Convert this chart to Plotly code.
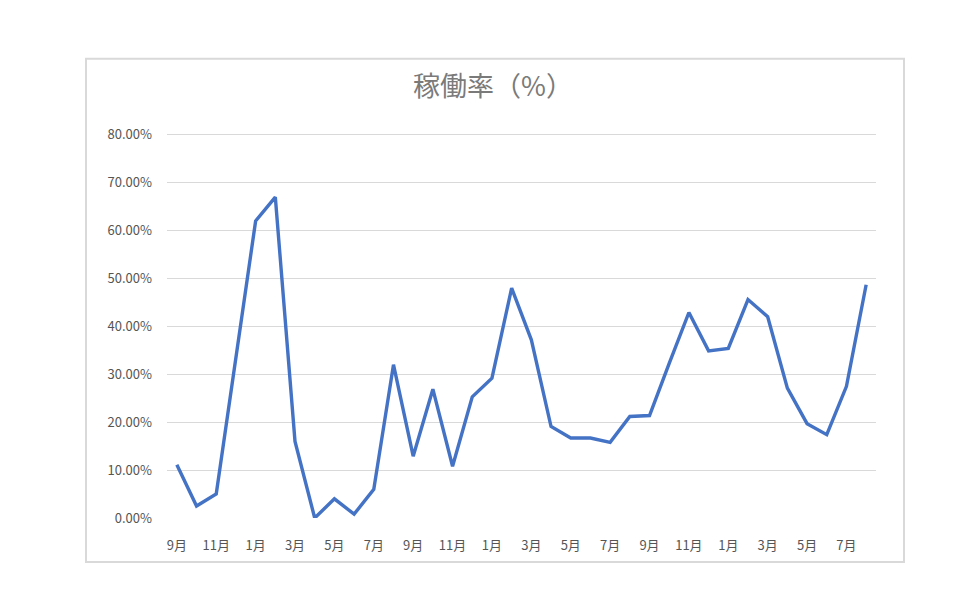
import plotly.graph_objects as go

# 稼働率 (%) — monthly, Sep of year 1 through Aug of year 4
months = ["9月", "10月", "11月", "12月", "1月", "2月", "3月", "4月", "5月", "6月", "7月", "8月"] * 3
rate = [
    11.1, 2.5, 5.0, 34.0, 62.0, 67.0, 16.0, 0.0, 4.0, 0.8, 6.0, 32.0,
    12.9, 26.9, 10.8, 25.3, 29.2, 48.0, 37.2, 19.1, 16.7, 16.7, 15.8, 21.2,
    21.4, 32.3, 42.9, 34.9, 35.4, 45.6, 42.0, 27.1, 19.7, 17.4, 27.5, 48.7,
]
y_ticks = [0, 10, 20, 30, 40, 50, 60, 70, 80]

idx = list(range(len(rate)))
# Excel shows every other category label
tick_pos = idx[::2]
tick_txt = months[::2]

font_family = "Noto Sans CJK JP, Noto Sans, sans-serif"

# the page body has an 8px margin, so work in shifted pixel coords
OFF = 8
W, H = 960 - OFF, 610 - OFF

fig = go.Figure()
fig.add_trace(go.Scatter(
    x=idx, y=rate, mode="lines",
    line=dict(color="#4472C4", width=3.4),
    hoverinfo="skip", showlegend=False,
))

# 0% at y=518 and 80% at y=135 on screen; pad the top by one unit so the
# 80% gridline is drawn
unit = (518 - 135) / 80
y_top = 81
pl, pr = 167 - OFF, 876 - OFF
pb = 518 - OFF
pt = pb - unit * y_top
pw, ph = pr - pl, pb - pt

def px(xs):
    return (xs - OFF - pl) / pw

def py(ys):
    return (pb - (ys - OFF)) / ph

fig.add_shape(
    type="rect", xref="paper", yref="paper",
    x0=px(86), x1=px(904), y0=py(562), y1=py(59),
    line=dict(color="#d9d9d9", width=2), fillcolor="rgba(0,0,0,0)", layer="below",
)

fig.update_layout(
    width=W, height=H,
    margin=dict(l=pl, r=W - pr, t=pt, b=H - pb),
    paper_bgcolor="white", plot_bgcolor="white",
    font=dict(family=font_family, color="#595959", size=13),
    title=dict(
        text="稼働率（%）", x=(493 - OFF) / W, xanchor="center",
        xref="container", yref="container", y=1 - (87 - OFF) / H, yanchor="middle",
        font=dict(size=27, color="#7a7a7a", family=font_family),
    ),
)
fig.update_xaxes(
    range=[-0.5, len(rate) - 0.5],
    tickmode="array", tickvals=tick_pos, ticktext=tick_txt,
    showgrid=False, zeroline=False, showline=False, ticks="",
    ticklabelstandoff=18, tickfont=dict(size=13, color="#555555"),
)
fig.update_yaxes(
    range=[0, y_top], tickmode="array", tickvals=y_ticks,
    ticktext=[f"{v:.2f}%" for v in y_ticks],
    showgrid=True, gridcolor="#d9d9d9", gridwidth=1,
    zeroline=False, showline=False, ticks="",
    ticklabelstandoff=14, tickfont=dict(size=13, color="#555555"),
)

fig.write_html("out.html")
